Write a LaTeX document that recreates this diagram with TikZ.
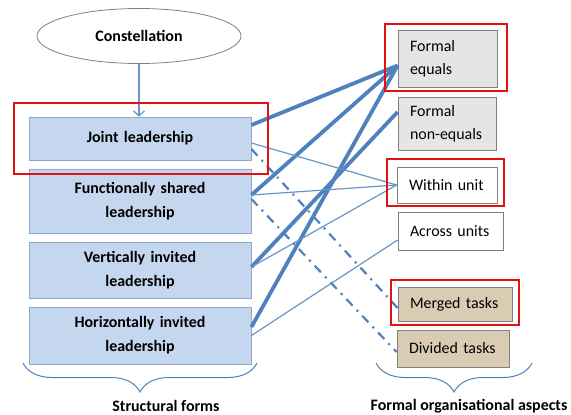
\documentclass[tikz,border=0pt]{standalone}
\usepackage{fontspec}
\setmainfont{Carlito}
\usetikzlibrary{shapes.geometric,arrows.meta,decorations.pathreplacing}

\definecolor{boxblue}{RGB}{197,215,239}
\definecolor{boxedge}{RGB}{140,166,206}
\definecolor{linkblue}{RGB}{79,129,189}
\definecolor{framered}{RGB}{226,18,18}
\definecolor{grayfill}{RGB}{229,229,229}
\definecolor{tanfill}{RGB}{218,204,178}
\definecolor{rboxedge}{RGB}{128,128,128}

\tikzset{
  lbox/.style={draw=boxedge, line width=0.8bp, fill=boxblue, inner xsep=5bp,
    minimum width=222bp, text width=212bp, align=center,
    font=\bfseries\fontsize{16}{24}\selectfont},
  rbox/.style={draw=rboxedge, line width=0.8bp, inner xsep=12bp,
    text width=#1, align=left, font=\fontsize{16}{23}\selectfont},
  boldlink/.style={draw=linkblue, line width=3.8bp},
  finelink/.style={draw=linkblue!85, line width=1.2bp},
  dashlink/.style={draw=linkblue, line width=2.2bp,
    dash pattern=on 9bp off 6bp on 2bp off 6bp},
  redframe/.style={draw=framered, line width=2.2bp},
  bracket/.style={draw=linkblue, line width=1bp, decorate,
    decoration={brace, mirror, amplitude=29bp}},
  caption/.style={font=\bfseries\fontsize{16}{19}\selectfont},
}

\begin{document}
\begin{tikzpicture}[x=1bp,y=-1bp]
  \useasboundingbox (0,0) rectangle (571,414);

  % structural forms
  \node[draw=rboxedge, line width=0.8bp, ellipse, minimum width=204bp, minimum height=55bp,
        caption] (constellation) at (139,36) {Constellation};
  \node[lbox, minimum height=43bp] (joint) at (140,138.5) {Joint leadership};
  \node[lbox, minimum height=64bp] (functional) at (140,201) {Functionally shared\\leadership};
  \node[lbox, minimum height=56bp] (vertical) at (140,270) {Vertically invited\\leadership};
  \node[lbox, minimum height=57bp] (horizontal) at (140,335.5) {Horizontally invited\\leadership};

  % formal organisational aspects
  \node[rbox=75bp, fill=grayfill, minimum height=57bp] (formalEq) at (447.5,58.5) {Formal\\equals};
  \node[rbox=74bp, fill=grayfill, minimum height=53bp] (formalNonEq) at (447,123.5) {Formal\\non-equals};
  \node[rbox=76bp, fill=white, minimum height=36bp] (within) at (447,185) {Within unit};
  \node[rbox=81bp, fill=white, minimum height=38bp] (across) at (450.5,231) {Across units};
  \node[rbox=90bp, fill=tanfill, minimum height=34bp] (merged) at (455,304) {Merged tasks};
  \node[rbox=88bp, fill=tanfill, minimum height=37bp] (divided) at (453,348.5) {Divided tasks};

  \draw[finelink, -{Straight Barb[length=5bp,width=11bp]}]
    (constellation.south) -- (constellation.south |- joint.north);

  \draw[boldlink] ([yshift=13.5bp]joint.east) -- ([yshift=-7bp]formalEq.west);
  \draw[boldlink] ([yshift=6bp]functional.east) -- ([yshift=-7bp]formalEq.west);
  \draw[boldlink] ([yshift=8.5bp]horizontal.east) -- ([yshift=-7bp]formalEq.west);
  \draw[boldlink] ([yshift=3bp]vertical.east) -- ([yshift=11.5bp]formalNonEq.west);

  \draw[finelink] ([yshift=-4.5bp]joint.east) -- (within.west);
  \draw[finelink] ([yshift=6bp]functional.east) -- (within.west);
  \draw[finelink] ([yshift=3bp]vertical.east) -- (within.west);
  \draw[finelink] (horizontal.east) -- ([yshift=-9bp]across.west);

  \draw[dashlink] ([yshift=-10.5bp]joint.east) -- ([yshift=-4bp]merged.west);
  \draw[dashlink] ([yshift=2bp]functional.east) -- ([yshift=-3.5bp]divided.west);

  % highlights
  \draw[redframe] (14,103) rectangle (268,174);
  \draw[redframe] (385,24) rectangle (507,91);
  \draw[redframe] (387,159) rectangle (504,206);
  \draw[redframe] (391,280) rectangle (519,325);

  \draw[bracket] (23,363) -- (257,363);
  \draw[bracket] (376,363) -- (532,363);
  \node[caption] (structLabel) at (166,406) {Structural forms};
  \node[caption] (formalLabel) at (469,406) {Formal organisational aspects};
\end{tikzpicture}
\end{document}
